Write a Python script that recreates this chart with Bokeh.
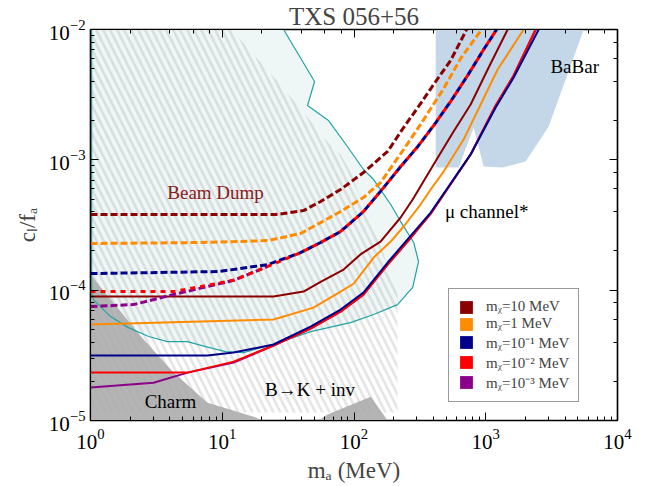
from bokeh.plotting import figure
from bokeh.models import Range1d, LogAxis, Legend, LegendItem
from bokeh.embed import file_html
from bokeh.resources import INLINE
from bokeh.core.properties import value

FONT = "Liberation Serif"

# ---------------- data (m_a in MeV, c_l/f_a) ----------------
babar_m = [417, 5540, 3005, 2009, 1343, 964, 809, 623, 417]
babar_c = [1e-2, 1e-2, 1.80e-3, 9.7e-4, 8.73e-4, 8.87e-4, 1.77e-3, 8.73e-4, 8.73e-4]

beam_m = [1.02, 1.02, 1.054, 1.42, 1.94, 2.76, 3.84, 5.45, 7.47, 10.6, 14.5, 24.5, 46.8,
          94.2, 141, 214, 279, 309, 284, 226, 190, 141, 118, 89.4, 64.1, 44.4, 50.2, 29.2]
beam_c = [1e-2, 9.59e-5, 8.47e-5, 6.27e-5, 5.16e-5, 4.41e-5, 4.03e-5, 4.03e-5, 3.69e-5,
          3.38e-5, 3.32e-5, 3.83e-5, 4.81e-5, 5.64e-5, 6.50e-5, 7.75e-5, 1.05e-4, 1.66e-4,
          2.32e-4, 3.36e-4, 4.54e-4, 7.06e-4, 8.43e-4, 1.26e-3, 2.0e-3, 2.61e-3, 3.99e-3, 1e-2]

charm_m = [1, 1.233, 2.53, 4.27, 7.73, 11.6, 17.3, 20.2, 1]
charm_c = [1.32e-4, 1.01e-4, 4.18e-5, 2.33e-5, 1.37e-5, 1.21e-5, 1.07e-5, 1e-5, 1e-5]
charm2_m = [53.8, 63.0, 134, 180]
charm2_c = [1e-5, 1.11e-5, 1.52e-5, 1e-5]

bk_m = [1, 11.6, 15.6, 22.1, 27.7, 34.8, 44.4, 58.8, 79.1, 94.2, 112, 138, 168, 190, 214, 214, 1]
bk_c = [1e-2, 1e-2, 7.27e-3, 4.85e-3, 3.78e-3, 2.85e-3, 2.11e-3, 1.48e-3, 1.10e-3, 8.13e-4,
        5.14e-4, 3.19e-4, 1.88e-4, 1.32e-4, 1.01e-4, 1.15e-5, 1.15e-5]

# solid curves (mu channel)
m10_solid_m = [1, 24.5, 41.4, 55.8, 83.4, 112, 159, 226, 279, 402, 570, 768, 1052, 1467]
m10_solid_c = [8.93e-5, 8.93e-5, 9.75e-5, 1.16e-4, 1.44e-4, 1.88e-4, 2.36e-4, 3.61e-4, 4.96e-4,
               9.20e-4, 1.65e-3, 2.66e-3, 5.11e-3, 1e-2]
m1_solid_m = [1, 24.5, 49.3, 79.1, 99.3, 141, 190, 238, 320, 382, 479, 679, 915, 1231, 1941]
m1_solid_c = [5.45e-5, 5.95e-5, 7.35e-5, 9.75e-5, 1.12e-4, 1.78e-4, 2.36e-4, 3.08e-4, 4.54e-4,
              5.92e-4, 8.13e-4, 1.43e-3, 2.66e-3, 4.93e-3, 1e-2]
m01_solid_m = [1, 7.73, 12.2, 24.5, 46.8, 79.1, 118, 180, 255, 382, 768, 1189, 1629, 2523]
m01_solid_c = [3.15e-5, 3.15e-5, 3.32e-5, 3.83e-5, 5.26e-5, 7.10e-5, 9.59e-5, 1.63e-4, 2.45e-4,
               3.94e-4, 1.10e-3, 2.52e-3, 4.28e-3, 1e-2]
m001_solid_m = [1, 5.45, 12.2, 24.5, 46.8, 79.1, 118, 180, 255, 382, 768, 1189, 1629, 2392]
m001_solid_c = [2.33e-5, 2.33e-5, 2.83e-5, 3.76e-5, 5.07e-5, 6.85e-5, 9.25e-5, 1.57e-4, 2.36e-4,
                3.87e-4, 1.10e-3, 2.61e-3, 4.44e-3, 1e-2]
m0001_solid_m = [1, 3.01, 5.45, 12.2, 24.5, 46.8, 79.1, 118, 180, 255, 382, 768, 1189, 1629, 2392]
m0001_solid_c = [1.79e-5, 1.95e-5, 2.33e-5, 2.78e-5, 3.76e-5, 5.07e-5, 6.85e-5, 9.25e-5, 1.57e-4,
                 2.36e-4, 3.87e-4, 1.10e-3, 2.61e-3, 4.44e-3, 1e-2]

# dashed curves
m10_dash_m = [1, 25.4, 41.4, 55.8, 79.1, 118, 180, 238, 320, 417, 541, 716]
m10_dash_c = [3.80e-4, 3.80e-4, 4.08e-4, 4.79e-4, 5.92e-4, 7.99e-4, 1.16e-3, 1.77e-3, 2.70e-3,
              3.99e-3, 5.78e-3, 1e-2]
m1_dash_m = [1, 6.84, 22.1, 39.3, 55.8, 79.1, 118, 159, 238, 320, 479, 645, 931]
m1_dash_c = [2.28e-4, 2.32e-4, 2.40e-4, 2.72e-4, 3.30e-4, 4.01e-4, 5.14e-4, 6.70e-4, 1.20e-3,
             1.87e-3, 3.52e-3, 5.99e-3, 1e-2]
m01_dash_m = [1, 9.37, 22.1, 39.3, 55.8, 79.1, 118, 168, 226, 304, 402, 541, 729, 964, 1210]
m01_dash_c = [1.34e-4, 1.39e-4, 1.57e-4, 1.94e-4, 2.32e-4, 2.82e-4, 4.01e-4, 6.13e-4, 8.88e-4,
              1.26e-3, 1.83e-3, 2.80e-3, 4.44e-3, 7.02e-3, 1e-2]
m001_dash_m = [1, 4.27, 12.2, 22.1, 39.3, 55.8, 79.1, 118, 168, 226, 304, 402, 541, 729, 964, 1210]
m001_dash_c = [9.75e-5, 9.75e-5, 1.19e-4, 1.52e-4, 1.94e-4, 2.32e-4, 2.82e-4, 4.01e-4, 6.13e-4,
               8.88e-4, 1.26e-3, 1.83e-3, 2.80e-3, 4.44e-3, 7.02e-3, 1e-2]
m0001_dash_m = [1, 2.12, 4.27, 12.2, 22.1]
m0001_dash_c = [7.49e-5, 7.75e-5, 9.25e-5, 1.19e-4, 1.52e-4]

legend_labels = ["m\u1d6a=10 MeV", "m\u1d6a=1 MeV", "m\u1d6a=10\u207b\u00b9 MeV",
                 "m\u1d6a=10\u207b\u00b2 MeV", "m\u1d6a=10\u207b\u00b3 MeV"]
colors = ["#8b0000", "#ff8c00", "#00008b", "#ff0000", "#8b008b"]

# ---------------- figure ----------------
p = figure(x_axis_type="log", y_axis_type="log",
           x_range=Range1d(1, 1e4), y_range=Range1d(1e-5, 1e-2),
           frame_width=527, frame_height=391,
           min_border_left=90, min_border_right=35, min_border_top=0, min_border_bottom=65,
           output_backend="svg", toolbar_location=None,
           background_fill_color="white", border_fill_color="white")
p.grid.visible = False
p.outline_line_color = "black"
p.outline_line_width = 1.5

p.title.text = "TXS 056+56"
p.title.align = "center"
p.title.text_font = FONT
p.title.text_font_size = "25px"
p.title.text_font_style = "normal"
p.title.standoff = 0
p.title.offset = 0

# regions
p.patch(babar_m, babar_c, fill_color="#c3d7e9", line_color=None)
p.patch(beam_m, beam_c, fill_color="#eef6f6", line_color=None)
p.patch(charm_m, charm_c, fill_color="#b4b4b4", line_color=None)
p.patch(charm2_m, charm2_c, fill_color="#b4b4b4", line_color=None)
p.patch(bk_m, bk_c, fill_color=None, line_color=None, hatch_pattern="\\",
        hatch_color="#a8a8a8", hatch_alpha=0.3, hatch_scale=14, hatch_weight=2.6)
p.line(beam_m, beam_c, line_color="#22a3a3", line_width=1.2)

# solid curves
p.line(m10_solid_m, m10_solid_c, line_color=colors[0], line_width=2)
p.line(m1_solid_m, m1_solid_c, line_color=colors[1], line_width=2)
p.line(m0001_solid_m, m0001_solid_c, line_color=colors[4], line_width=2)
p.line(m001_solid_m, m001_solid_c, line_color=colors[3], line_width=2)
p.line(m01_solid_m, m01_solid_c, line_color=colors[2], line_width=2)

# dashed curves
p.line(m10_dash_m, m10_dash_c, line_color=colors[0], line_width=3, line_dash="7 3")
p.line(m1_dash_m, m1_dash_c, line_color=colors[1], line_width=3, line_dash="7 3")
p.line(m0001_dash_m, m0001_dash_c, line_color=colors[4], line_width=3, line_dash="7 3")
p.line(m01_dash_m, m01_dash_c, line_color=colors[2], line_width=3, line_dash="7 3")
p.line(m001_dash_m, m001_dash_c, line_color=colors[3], line_width=3, line_dash="5 5")

# text labels
p.text(x=[8.9], y=[5.6e-4], text=["Beam Dump"], text_color="#8b1a1a",
       text_font=value(FONT), text_font_size="19px", text_align="center", text_baseline="middle")
p.text(x=[1016], y=[4.0e-4], text=["\u03bc channel*"], text_color="black",
       text_font=value(FONT), text_font_size="19px", text_align="center", text_baseline="middle")
p.text(x=[4732], y=[5.2e-3], text=["BaBar"], text_color="black",
       text_font=value(FONT), text_font_size="19px", text_align="center", text_baseline="middle")
p.text(x=[46.4], y=[1.73e-5], text=["B\u2192K + inv"], text_color="black",
       text_font=value(FONT), text_font_size="19px", text_align="center", text_baseline="middle")
p.text(x=[4.05], y=[1.40e-5], text=["Charm"], text_color="black",
       text_font=value(FONT), text_font_size="19px", text_align="center", text_baseline="middle")

# legend (colour squares; glyphs sit outside the visible range)
items = []
for lab, col in zip(legend_labels, colors):
    r = p.quad(left=[2e5], right=[3e5], top=[2e-1], bottom=[1e-1], fill_color=col, line_color=None)
    items.append(LegendItem(label=lab, renderers=[r]))
legend = Legend(items=items, location=(358, 18), label_text_font=FONT,
                label_text_font_size="15px", glyph_width=16, glyph_height=16,
                label_height=16, spacing=0, padding=9, label_standoff=12,
                label_text_baseline="middle",
                border_line_color="#333333", border_line_width=1.5,
                background_fill_color="white", background_fill_alpha=1.0, margin=0)
p.add_layout(legend)

# axes
p.xaxis.axis_label = "m\u2090 (MeV)"
p.yaxis.axis_label = "c\u2097/f\u2090"
for ax in [p.xaxis[0], p.yaxis[0]]:
    ax.major_tick_in = 8
    ax.major_tick_out = 0
    ax.minor_tick_in = 4
    ax.minor_tick_out = 0
    ax.axis_line_width = 1.2
    ax.major_label_text_font = FONT
    ax.major_label_text_font_size = "21px"
    ax.axis_label_text_font = FONT
    ax.axis_label_text_font_size = "23px"
    ax.axis_label_text_font_style = "normal"
    ax.major_label_text_color = "black"
p.xaxis.major_label_standoff = 8
p.xaxis.axis_label_standoff = 6
p.yaxis.major_label_standoff = 5
p.yaxis.axis_label_standoff = 6

top = LogAxis(major_tick_in=8, major_tick_out=0, minor_tick_in=4, minor_tick_out=0,
              major_label_standoff=0, major_label_text_font_size="0px",
              major_label_text_color=None, axis_line_width=1.2)
right = LogAxis(major_tick_in=8, major_tick_out=0, minor_tick_in=4, minor_tick_out=0,
                major_label_standoff=0, major_label_text_font_size="0px",
                major_label_text_color=None, axis_line_width=1.2)
p.add_layout(top, "above")
p.add_layout(right, "right")

open("out.html", "w").write(file_html(p, INLINE))
